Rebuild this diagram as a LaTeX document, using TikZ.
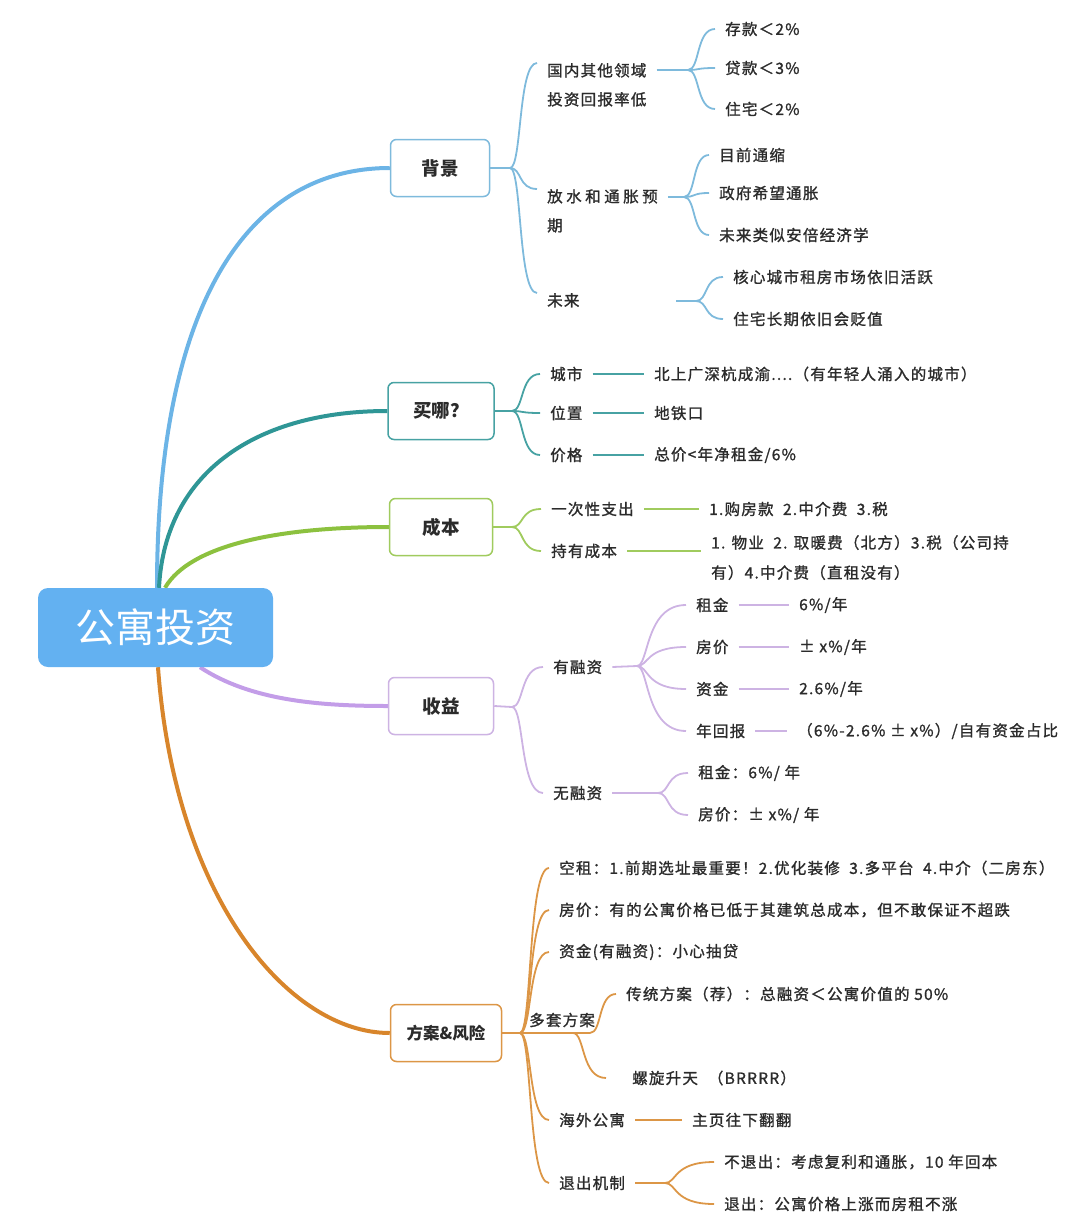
\documentclass[tikz,border=0pt]{standalone}
\usepackage{fontspec}
\setmainfont{Noto Sans CJK SC}
\newfontfamily\txtfont{Noto Sans CJK SC}[LetterSpace=8, FakeBold=1.2]
\usetikzlibrary{backgrounds}
\definecolor{ink}{HTML}{2B2B2B}
\definecolor{rootblue}{HTML}{63B1F1}
\definecolor{cblue}{HTML}{6CB4E6}
\definecolor{cblueL}{HTML}{7EBADC}
\definecolor{cteal}{HTML}{2F9696}
\definecolor{ctealL}{HTML}{47A2A3}
\definecolor{cgreen}{HTML}{8CC13F}
\definecolor{cgreenL}{HTML}{A0CB5E}
\definecolor{cpurple}{HTML}{C39DE8}
\definecolor{cpurpleL}{HTML}{CDB3E3}
\definecolor{corange}{HTML}{D8852B}
\definecolor{corangeL}{HTML}{DC9646}

\begin{document}
\begin{tikzpicture}[x=1pt,y=-1pt,
	txt/.style={inner xsep=10pt, inner ysep=0pt, anchor=west, text=ink, align=left, font=\txtfont\fontsize{15.5}{29}\selectfont},
	topic/.style={draw=#1, line width=1.5pt, rounded corners=6pt, fill=white, minimum height=57pt, text=ink, font=\bfseries\fontsize{18.5}{18.5}\selectfont},
	trunk/.style={draw=#1, line width=4pt},
	twig/.style={draw=#1, line width=1.8pt},
	sprout/.style={to path={.. controls +(12,0) and ([xshift=8pt]\tikztostart |- \tikztotarget) .. (\tikztotarget)}}]
	\useasboundingbox (0,0) rectangle (1080,1228);
	
	% root
	\node[fill=rootblue, rounded corners=10pt, minimum width=235pt, minimum height=79pt, text=white, font=\fontsize{40}{40}\selectfont] (root) at (155.5,627.5) {公寓投资};
	
	% topics
	\node[topic=cblueL, minimum width=99pt] (bg) at (440,168) {背景};
	\node[topic=ctealL, minimum width=106pt] (mn) at (441,411) {买哪？};
	\node[topic=cgreenL, minimum width=103pt] (cb) at (441,527) {成本};
	\node[topic=cpurpleL, minimum width=105pt] (sy) at (441,706) {收益};
	\node[topic=corangeL, minimum width=111pt, font=\bfseries\fontsize{16.5}{16.5}\selectfont] (fa) at (446,1033) {方案\&风险};
	
	% trunks
	\begin{scope}[on background layer]
		\draw[trunk=cblue] ([xshift=1.5pt]root.north) .. controls +(0,-288) and +(-140,0) .. (bg.west);
		\draw[trunk=cteal] ([xshift=3.5pt]root.north) .. controls +(6,-118) and +(-128,0) .. (mn.west);
		\draw[trunk=cgreen] ([xshift=9.5pt]root.north) .. controls +(25,-43) and +(-110,0) .. (cb.west);
		\draw[trunk=cpurple] ([xshift=44.5pt]root.south) .. controls +(50,33) and +(-70,0) .. (sy.west);
		\draw[trunk=corange] ([xshift=2.5pt]root.south) .. controls +(17,233) and +(-100,0) .. (fa.west);
	\end{scope}
	
	% 背景
	\coordinate (fbg) at (510,168);
	\draw[twig=cblueL] (bg.east) -- (fbg);
	\node[txt, anchor=north west] (n11) at (537,63) {国内其他领域\\投资回报率低};
	\node[txt, anchor=north west] (n12) at (537,189) {放\kern3.5pt水\kern3.5pt和\kern3.5pt通\kern3.5pt胀\kern3.5pt预\\期};
	\node[txt, anchor=north west, text width=119pt] (n13) at (537,293) {未来};
	\foreach \n in {n11,n12,n13}
	\draw[twig=cblueL] (fbg) to[sprout] (\n.north west);
	
	\coordinate (f11) at (688,70);
	\draw[twig=cblueL] (n11.east |- f11) -- (f11);
	\foreach \i/\y/\t in {1/29/{存款＜2\%}, 2/68/{贷款＜3\%}, 3/109/{住宅＜2\%}} {
		\node[txt] (n11\i) at (715,\y) {\t};
		\draw[twig=cblueL] (f11) to[sprout] (n11\i.west);
	}
	\coordinate (f12) at (684,197);
	\draw[twig=cblueL] (n12.east |- f12) -- (f12);
	\foreach \i/\y/\t in {1/155/目前通缩, 2/193/政府希望通胀, 3/235/未来类似安倍经济学} {
		\node[txt] (n12\i) at (709,\y) {\t};
		\draw[twig=cblueL] (f12) to[sprout] (n12\i.west);
	}
	\coordinate (f13) at (696,301);
	\draw[twig=cblueL] (n13.east |- f13) -- (f13);
	\foreach \i/\y/\t in {1/277/核心城市租房市场依旧活跃, 2/319/住宅长期依旧会贬值} {
		\node[txt] (n13\i) at (723,\y) {\t};
		\draw[twig=cblueL] (f13) to[sprout] (n13\i.west);
	}
	
	% 买哪
	\coordinate (fmn) at (512,411);
	\draw[twig=ctealL] (mn.east) -- (fmn);
	\foreach \i/\y/\a/\b in {1/374/城市/{北上广深杭成渝....（有年轻人涌入的城市）}, 2/413/位置/地铁口, 3/455/价格/{总价<年净租金/6\%}} {
		\node[txt] (mn\i) at (540,\y) {\a};
		\node[txt] (mv\i) at (644,\y) {\b};
		\draw[twig=ctealL] (fmn) to[sprout] (mn\i.west);
		\draw[twig=ctealL] (mn\i.east) -- (mv\i.west);
	}
	
	% 成本
	\coordinate (fcb) at (512,527);
	\draw[twig=cgreenL] (cb.east) -- (fcb);
	\node[txt] (cb1) at (541,509) {一次性支出};
	\node[txt] (cb2) at (541,551) {持有成本};
	\node[txt] (cv1) at (699,509) {1.购房款\ \ 2.中介费\ \ 3.税};
	\node[txt, anchor=north west, font=\txtfont\fontsize{15.5}{30}\selectfont] (cv2) at (701,535) {1. 物业\ \ 2. 取暖费（北方）3.税（公司持\\有）4.中介费（直租没有）};
	\foreach \n in {cb1,cb2}
	\draw[twig=cgreenL] (fcb) to[sprout] (\n.west);
	\draw[twig=cgreenL] (cb1.east) -- (cv1.west);
	\draw[twig=cgreenL] (cb2.east) -- (cb2.east -| cv2.west);
	
	% 收益
	\coordinate (fsy) at (512,707);
	\draw[twig=cpurpleL] (sy.east) -- (fsy);
	\node[txt] (sy1) at (543,667) {有融资};
	\node[txt] (sy2) at (543,793) {无融资};
	\foreach \n in {sy1,sy2}
	\draw[twig=cpurpleL] (fsy) to[sprout] (\n.west);
	
	\coordinate (fy1) at (637,666);
	\draw[twig=cpurpleL] (sy1.east) -- (fy1);
	\foreach \i/\y/\a/\b/\x in {1/605/租金/{6\%/年}/789, 2/647/房价/{± x\%/年}/789, 3/689/资金/{2.6\%/年}/789, 4/731/年回报/{（6\%-2.6\% ± x\%）/自有资金占比}/787} {
		\node[txt] (yr\i) at (686,\y) {\a};
		\node[txt] (yv\i) at (\x,\y) {\b};
		\draw[twig=cpurpleL] (fy1) to[sprout] (yr\i.west);
		\draw[twig=cpurpleL] (yr\i.east) -- (yv\i.west);
	}
	\coordinate (fy2) at (658,793);
	\draw[twig=cpurpleL] (sy2.east) -- (fy2);
	\foreach \i/\y/\t in {1/773/{租金：6\%/ 年}, 2/815/{房价：± x\%/ 年}} {
		\node[txt] (yn\i) at (688,\y) {\t};
		\draw[twig=cpurpleL] (fy2) to[sprout] (yn\i.west);
	}
	
	% 方案&风险
	\coordinate (ffa) at (520,1033);
	\draw[twig=corangeL] (fa.east) -- (ffa);
	\foreach \i/\y/\t in {1/868/{空租：1.前期选址最重要！2.优化装修\ \ 3.多平台\ \ 4.中介（二房东）}, 2/910/{房价：有的公寓价格已低于其建筑总成本，但不敢保证不超跌}, 3/952/{资金(有融资)：小心抽贷}, 5/1120/海外公寓, 6/1183/退出机制} {
		\node[txt] (fa\i) at (549,\y) {\t};
		\draw[twig=corangeL] (ffa) to[sprout] (fa\i.west);
	}
	
	% 多套方案
	\node[txt] (fa4) at (519,1020) {多套方案};
	\coordinate (fms) at (590,1033);
	\coordinate (fmt) at (573,1033);
	\draw[twig=corangeL] (ffa) -- (fms);
	\node[txt] (ms1) at (616,994) {传统方案（荐）：总融资＜公寓价值的 50\%};
	\node[txt] (ms2) at (606,1078) {\hspace{16pt}螺旋升天\hspace{10pt}（BRRRR）};
	\draw[twig=corangeL] (fms) to[sprout] (ms1.west);
	\draw[twig=corangeL] (fmt) to[sprout] (ms2.west);
	
	% 海外公寓
	\node[txt] (hw) at (682,1120) {主页往下翻翻};
	\draw[twig=corangeL] (fa5.east) -- (hw.west);
	
	% 退出机制
	\coordinate (fex) at (665,1183);
	\draw[twig=corangeL] (fa6.east) -- (fex);
	\foreach \i/\y/\t in {1/1162/{不退出：考虑复利和通胀，10 年回本}, 2/1204/退出：公寓价格上涨而房租不涨} {
		\node[txt] (ex\i) at (714,\y) {\t};
		\draw[twig=corangeL] (fex) to[sprout] (ex\i.west);
	}
\end{tikzpicture}
\end{document}
